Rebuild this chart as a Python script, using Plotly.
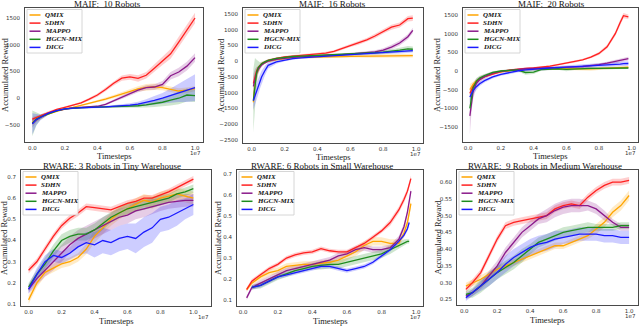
import plotly.graph_objects as go

W, H = 640, 326
SERIES = ["QMIX", "SDHN", "MAPPO", "HGCN-MIX", "DICG"]
COLORS = ["#FFA500", "#FF2020", "#8B1A8B", "#1E8C1E", "#1A1AFF"]
X_TICKS = [0.0, 0.2, 0.4, 0.6, 0.8, 1.0]
X_TICK_LABELS = ["0.0", "0.2", "0.4", "0.6", "0.8", "1.0"]

# ---------------- MAIF: 10 Robots (x in units of 1e7) ----------------
M10_X = [0.0, 0.025, 0.05, 0.1, 0.15, 0.2, 0.25, 0.3, 0.35, 0.4, 0.45, 0.5, 0.55,
         0.6, 0.65, 0.7, 0.75, 0.8, 0.85, 0.9, 0.95, 1.0]
M10_QMIX = [-450, -400, -360, -290, -240, -200, -170, -135, -95, -55, -15, 30, 80,
            130, 175, 205, 215, 200, 165, 135, 150, 180]
M10_QMIX_SD = [60, 40, 30, 20, 15, 15, 15, 15, 15, 20, 25, 30, 35, 40, 50, 60, 60, 50, 50, 50, 50, 50]
M10_SDHN = [-390, -360, -330, -260, -210, -170, -130, -85, -15, 60, 165, 280, 375,
            400, 370, 430, 560, 700, 830, 1050, 1280, 1500]
M10_SDHN_SD = [40, 30, 25, 20, 15, 15, 15, 20, 25, 30, 35, 40, 50, 55, 60, 60, 70, 80, 90, 100, 100, 100]
M10_MAPPO = [-470, -400, -350, -280, -230, -200, -180, -170, -160, -150, -115, -45, 15,
             80, 150, 200, 210, 260, 420, 490, 600, 760]
M10_MAPPO_SD = [80, 50, 35, 20, 15, 15, 15, 15, 15, 15, 20, 25, 30, 35, 40, 45, 50, 60, 70, 80, 80, 80]
M10_HGCN = [-470, -390, -350, -285, -235, -200, -185, -175, -170, -165, -160, -160, -155,
            -150, -140, -125, -105, -75, -35, 0, 60, 50]
M10_HGCN_SD = [240, 120, 50, 25, 15, 15, 15, 15, 15, 15, 15, 20, 25, 30, 40, 50, 60, 80, 100, 110, 120, 120]
M10_DICG = [-480, -400, -360, -280, -230, -200, -185, -175, -170, -165, -160, -150, -145,
            -130, -110, -80, -40, 0, 50, 100, 150, 200]
M10_DICG_SD = [200, 100, 50, 25, 15, 15, 15, 15, 15, 15, 15, 20, 25, 35, 45, 60, 80, 100, 130, 170, 220, 250]

# ---------------- MAIF: 16 Robots ----------------
M16_X = [0.01, 0.02, 0.03, 0.04, 0.05, 0.06, 0.08, 0.1, 0.15, 0.2, 0.25, 0.3, 0.35,
         0.4, 0.45, 0.5, 0.55, 0.6, 0.65, 0.7, 0.75, 0.8, 0.85, 0.9, 0.95, 0.98]
M16_QMIX = [-1300, -700, -400, -250, -160, -100, -40, 0, 50, 90, 110, 120, 130,
            140, 145, 150, 150, 155, 160, 160, 165, 165, 170, 170, 175, 180]
M16_QMIX_SD = [300, 200, 120, 80, 60, 50, 40, 30, 30, 30, 30, 30, 30, 30, 30, 40, 40, 40, 40, 50, 50, 50, 50, 60, 60, 60]
M16_SDHN = [-700, -450, -300, -200, -130, -80, -20, 30, 90, 140, 165, 185, 205,
            230, 260, 310, 400, 500, 580, 680, 800, 950, 1080, 1150, 1350, 1370]
M16_SDHN_SD = [200, 120, 80, 60, 50, 40, 30, 30, 30, 30, 30, 30, 30, 40, 40, 40, 50, 50, 60, 60, 70, 70, 80, 80, 90, 90]
M16_MAPPO = [-800, -550, -380, -260, -180, -120, -50, 0, 60, 100, 120, 140, 160,
             180, 190, 200, 210, 230, 250, 270, 300, 350, 450, 580, 780, 980]
M16_MAPPO_SD = [400, 300, 200, 120, 80, 60, 40, 30, 30, 30, 30, 30, 30, 30, 30, 30, 30, 35, 40, 45, 50, 60, 70, 80, 80, 80]
M16_HGCN = [-1250, -700, -350, -200, -130, -80, -20, 30, 90, 130, 150, 165, 175,
            185, 195, 205, 215, 225, 240, 255, 270, 290, 310, 350, 390, 380]
M16_HGCN_SD = [1000, 800, 400, 200, 100, 60, 40, 30, 30, 30, 30, 30, 30, 30, 30, 30, 30, 35, 40, 45, 50, 60, 70, 80, 90, 90]
M16_DICG = [-1250, -1100, -950, -800, -650, -500, -300, -130, -20, 40, 80, 110, 130,
            150, 165, 180, 195, 210, 225, 240, 255, 270, 285, 300, 320, 340]
M16_DICG_SD = [300, 300, 280, 250, 220, 200, 150, 100, 60, 40, 30, 30, 30, 30, 30, 30, 30, 30, 35, 40, 45, 50, 50, 55, 60, 60]

# ---------------- MAIF: 20 Robots ----------------
M20_X = [0.01, 0.02, 0.03, 0.05, 0.07, 0.1, 0.15, 0.2, 0.25, 0.3, 0.35, 0.4, 0.45,
         0.5, 0.55, 0.6, 0.65, 0.7, 0.75, 0.8, 0.85, 0.9, 0.93, 0.95, 0.98]
M20_QMIX = [-500, -420, -350, -270, -210, -150, -70, -20, 10, 30, 45, 55, 55,
            55, 60, 60, 55, 55, 55, 65, 75, 85, 90, 95, 100]
M20_QMIX_SD = [150, 100, 80, 60, 50, 40, 30, 25, 25, 25, 30, 30, 30, 30, 30, 30, 35, 40, 50, 40, 35, 30, 30, 30, 30]
M20_SDHN = [-600, -500, -420, -300, -220, -150, -80, -20, 20, 50, 70, 80, 100,
            130, 170, 210, 250, 300, 370, 470, 650, 1000, 1300, 1480, 1450]
M20_SDHN_SD = [100, 80, 60, 50, 40, 30, 25, 25, 25, 25, 25, 25, 25, 25, 25, 25, 30, 30, 30, 40, 50, 60, 70, 70, 60]
M20_MAPPO = [-1200, -800, -550, -330, -230, -150, -60, -10, 20, 45, 60, 70, 75,
             80, 90, 100, 110, 120, 140, 170, 210, 250, 280, 310, 330]
M20_MAPPO_SD = [500, 300, 200, 120, 80, 60, 40, 30, 30, 30, 30, 30, 30, 30, 30, 30, 30, 30, 35, 40, 40, 45, 45, 50, 50]
M20_HGCN = [-1000, -650, -450, -270, -190, -120, -40, 0, 20, 30, -40, -30, 40,
            60, 60, 45, 60, 70, 70, 70, 75, 80, 80, 80, 80]
M20_HGCN_SD = [300, 200, 120, 80, 60, 40, 30, 25, 25, 30, 60, 50, 30, 30, 30, 50, 35, 30, 30, 30, 30, 30, 30, 30, 30]
M20_DICG = [-700, -600, -520, -420, -340, -260, -160, -90, -40, 0, 30, 50, 65,
            80, 90, 100, 110, 120, 135, 150, 160, 175, 185, 195, 200]
M20_DICG_SD = [150, 120, 100, 80, 60, 50, 40, 40, 40, 40, 40, 40, 40, 40, 45, 50, 50, 50, 50, 55, 55, 55, 55, 60, 60]

# ---------------- RWARE: 3 Robots in Tiny Warehouse ----------------
R3_X = [0.0, 0.05, 0.1, 0.15, 0.2, 0.25, 0.3, 0.35, 0.4, 0.45, 0.5, 0.55, 0.6,
        0.65, 0.7, 0.75, 0.8, 0.85, 0.9, 0.95, 1.0]
R3_QMIX = [0.12, 0.20, 0.25, 0.27, 0.29, 0.30, 0.32, 0.36, 0.42, 0.46, 0.50, 0.53, 0.55,
           0.57, 0.59, 0.58, 0.60, 0.61, 0.62, 0.61, 0.60]
R3_QMIX_SD = [0.02, 0.02, 0.02, 0.02, 0.02, 0.02, 0.02, 0.025, 0.03, 0.03, 0.03, 0.03, 0.03,
              0.03, 0.03, 0.03, 0.03, 0.03, 0.03, 0.03, 0.03]
R3_SDHN = [0.26, 0.30, 0.36, 0.42, 0.47, 0.505, 0.53, 0.56, 0.555, 0.55, 0.545, 0.56, 0.575,
           0.585, 0.60, 0.60, 0.615, 0.63, 0.65, 0.67, 0.69]
R3_SDHN_SD = [0.015, 0.015, 0.015, 0.015, 0.015, 0.015, 0.015, 0.015, 0.015, 0.015, 0.015, 0.015, 0.015,
              0.015, 0.015, 0.015, 0.015, 0.015, 0.015, 0.015, 0.015]
R3_MAPPO = [0.17, 0.22, 0.26, 0.30, 0.34, 0.38, 0.41, 0.43, 0.45, 0.47, 0.49, 0.51, 0.52,
            0.54, 0.55, 0.56, 0.57, 0.58, 0.585, 0.59, 0.59]
R3_MAPPO_SD = [0.02, 0.03, 0.03, 0.04, 0.04, 0.04, 0.04, 0.04, 0.04, 0.04, 0.04, 0.04, 0.04,
               0.04, 0.04, 0.035, 0.03, 0.03, 0.03, 0.03, 0.03]
R3_HGCN = [0.18, 0.24, 0.29, 0.35, 0.40, 0.42, 0.43, 0.43, 0.45, 0.48, 0.51, 0.53, 0.55,
           0.56, 0.57, 0.58, 0.59, 0.60, 0.62, 0.63, 0.645]
R3_HGCN_SD = [0.02, 0.02, 0.025, 0.03, 0.03, 0.03, 0.03, 0.03, 0.03, 0.03, 0.025, 0.025, 0.025,
              0.025, 0.025, 0.025, 0.025, 0.02, 0.02, 0.02, 0.02]
R3_DICG = [0.17, 0.24, 0.30, 0.33, 0.32, 0.34, 0.37, 0.39, 0.38, 0.40, 0.39, 0.41, 0.42,
           0.41, 0.44, 0.46, 0.50, 0.51, 0.53, 0.55, 0.57]
R3_DICG_SD = [0.02, 0.03, 0.03, 0.03, 0.03, 0.03, 0.04, 0.05, 0.06, 0.06, 0.06, 0.06, 0.06,
              0.07, 0.07, 0.07, 0.06, 0.06, 0.06, 0.05, 0.05]

# ---------------- RWARE: 6 Robots in Small Warehouse ----------------
R6_X = [0.02, 0.05, 0.1, 0.15, 0.2, 0.25, 0.3, 0.35, 0.4, 0.45, 0.5, 0.55, 0.6,
        0.65, 0.7, 0.75, 0.8, 0.85, 0.9, 0.93, 0.95, 0.97]
R6_X_LATE = [0.05, 0.1, 0.15, 0.2, 0.25, 0.3, 0.35, 0.4, 0.45, 0.5, 0.55, 0.6,
             0.65, 0.7, 0.75, 0.8, 0.85, 0.9, 0.93, 0.95, 0.96]
R6_QMIX = [0.15, 0.18, 0.21, 0.23, 0.24, 0.26, 0.265, 0.27, 0.27, 0.275, 0.28, 0.29, 0.31,
           0.33, 0.36, 0.38, 0.38, 0.37, 0.37, 0.42, 0.47, 0.56]
R6_QMIX_SD = [0.01, 0.01, 0.015, 0.015, 0.015, 0.015, 0.015, 0.015, 0.015, 0.015, 0.015, 0.02, 0.02,
              0.02, 0.02, 0.02, 0.02, 0.02, 0.02, 0.02, 0.02, 0.02]
R6_SDHN = [0.15, 0.19, 0.22, 0.25, 0.27, 0.30, 0.315, 0.325, 0.33, 0.345, 0.335, 0.33, 0.33,
           0.35, 0.37, 0.40, 0.43, 0.47, 0.53, 0.58, 0.62, 0.68]
R6_SDHN_SD = [0.01, 0.01, 0.01, 0.01, 0.01, 0.01, 0.01, 0.01, 0.01, 0.01, 0.01, 0.01, 0.01,
              0.01, 0.01, 0.01, 0.01, 0.015, 0.015, 0.015, 0.015, 0.015]
R6_MAPPO = [0.11, 0.16, 0.18, 0.20, 0.22, 0.24, 0.25, 0.26, 0.27, 0.28, 0.29, 0.31, 0.32,
            0.34, 0.35, 0.34, 0.34, 0.35, 0.39, 0.45, 0.52, 0.62]
R6_MAPPO_SD = [0.01, 0.01, 0.015, 0.015, 0.015, 0.015, 0.015, 0.015, 0.015, 0.015, 0.015, 0.015, 0.015,
               0.015, 0.015, 0.015, 0.015, 0.015, 0.015, 0.015, 0.015, 0.015]
R6_HGCN = [0.16, 0.17, 0.19, 0.21, 0.225, 0.24, 0.25, 0.26, 0.265, 0.27, 0.27, 0.28,
           0.29, 0.30, 0.31, 0.32, 0.34, 0.36, 0.375, 0.38, 0.38]
R6_HGCN_SD = [0.01, 0.015, 0.015, 0.015, 0.015, 0.015, 0.015, 0.015, 0.02, 0.02, 0.02, 0.02,
              0.02, 0.02, 0.02, 0.02, 0.02, 0.015, 0.015, 0.01, 0.01]
R6_DICG = [0.16, 0.17, 0.19, 0.21, 0.22, 0.23, 0.24, 0.25, 0.26, 0.26, 0.25, 0.24,
           0.25, 0.26, 0.28, 0.31, 0.34, 0.38, 0.41, 0.44, 0.47]
R6_DICG_SD = [0.01, 0.01, 0.01, 0.01, 0.01, 0.01, 0.01, 0.01, 0.01, 0.01, 0.01, 0.01,
              0.01, 0.01, 0.01, 0.01, 0.01, 0.01, 0.01, 0.01, 0.01]

# ---------------- RWARE: 9 Robots in Medium Warehouse ----------------
R9_X = [0.01, 0.05, 0.1, 0.15, 0.2, 0.25, 0.3, 0.35, 0.4, 0.45, 0.5, 0.55, 0.6,
        0.65, 0.7, 0.75, 0.8, 0.85, 0.9, 0.95, 1.0]
R9_QMIX = [0.29, 0.30, 0.31, 0.325, 0.34, 0.35, 0.36, 0.37, 0.38, 0.39, 0.40, 0.41, 0.41,
           0.42, 0.43, 0.44, 0.46, 0.48, 0.51, 0.53, 0.56]
R9_QMIX_SD = [0.01, 0.01, 0.01, 0.01, 0.01, 0.01, 0.01, 0.01, 0.01, 0.01, 0.01, 0.01, 0.01,
              0.01, 0.01, 0.01, 0.015, 0.015, 0.015, 0.015, 0.015]
R9_SDHN = [0.28, 0.30, 0.33, 0.38, 0.43, 0.47, 0.48, 0.485, 0.49, 0.495, 0.50, 0.52, 0.53,
           0.535, 0.53, 0.555, 0.575, 0.59, 0.60, 0.60, 0.605]
R9_SDHN_SD = [0.01, 0.01, 0.01, 0.01, 0.01, 0.01, 0.01, 0.01, 0.01, 0.01, 0.01, 0.01, 0.01,
              0.01, 0.01, 0.01, 0.01, 0.01, 0.01, 0.01, 0.01]
R9_MAPPO = [0.26, 0.27, 0.29, 0.32, 0.35, 0.39, 0.42, 0.45, 0.47, 0.49, 0.50, 0.515, 0.525,
            0.53, 0.53, 0.53, 0.52, 0.50, 0.48, 0.465, 0.465]
R9_MAPPO_SD = [0.01, 0.01, 0.01, 0.015, 0.015, 0.015, 0.015, 0.015, 0.015, 0.015, 0.02, 0.02, 0.02,
               0.02, 0.02, 0.015, 0.015, 0.015, 0.01, 0.01, 0.01]
R9_HGCN = [0.265, 0.27, 0.29, 0.31, 0.33, 0.345, 0.36, 0.38, 0.40, 0.42, 0.43, 0.44, 0.45,
           0.455, 0.46, 0.465, 0.465, 0.465, 0.465, 0.47, 0.47]
R9_HGCN_SD = [0.01, 0.015, 0.02, 0.02, 0.02, 0.02, 0.02, 0.02, 0.015, 0.015, 0.015, 0.015, 0.015,
              0.015, 0.015, 0.015, 0.01, 0.01, 0.01, 0.01, 0.01]
R9_DICG = [0.255, 0.27, 0.29, 0.31, 0.33, 0.355, 0.375, 0.39, 0.405, 0.415, 0.42, 0.43, 0.435,
           0.44, 0.445, 0.445, 0.445, 0.44, 0.44, 0.435, 0.435]
R9_DICG_SD = [0.01, 0.01, 0.015, 0.02, 0.02, 0.025, 0.025, 0.025, 0.025, 0.025, 0.025, 0.025, 0.02,
              0.02, 0.02, 0.02, 0.02, 0.02, 0.02, 0.02, 0.02]

PANELS = [
    dict(title="MAIF:  10 Robots", xs=[M10_X] * 5,
         ys=[M10_QMIX, M10_SDHN, M10_MAPPO, M10_HGCN, M10_DICG],
         sds=[M10_QMIX_SD, M10_SDHN_SD, M10_MAPPO_SD, M10_HGCN_SD, M10_DICG_SD],
         box=(25, 8, 203, 142), xr=(-0.045, 1.049), yr=(-818, 1687),
         yt=[-500, 0, 500, 1000, 1500], yf="d", tpos=(107, 4), ylx=5),
    dict(title="MAIF:  16 Robots", xs=[M16_X] * 5,
         ys=[M16_QMIX, M16_SDHN, M16_MAPPO, M16_HGCN, M16_DICG],
         sds=[M16_QMIX_SD, M16_SDHN_SD, M16_MAPPO_SD, M16_HGCN_SD, M16_DICG_SD],
         box=(243, 8, 423, 143), xr=(-0.053, 1.042), yr=(-2595, 1690),
         yt=[-2500, -2000, -1500, -1000, -500, 0, 500, 1000, 1500], yf="d", tpos=(332, 4), ylx=220),
    dict(title="MAIF:  20 Robots", xs=[M20_X] * 5,
         ys=[M20_QMIX, M20_SDHN, M20_MAPPO, M20_HGCN, M20_DICG],
         sds=[M20_QMIX_SD, M20_SDHN_SD, M20_MAPPO_SD, M20_HGCN_SD, M20_DICG_SD],
         box=(463, 8, 638, 142), xr=(-0.032, 1.039), yr=(-1902, 1687),
         yt=[-1500, -1000, -500, 0, 500, 1000, 1500], yf="d", tpos=(551, 4), ylx=437),
    dict(title="RWARE: 3 Robots in Tiny Warehouse", xs=[R3_X] * 5,
         ys=[R3_QMIX, R3_SDHN, R3_MAPPO, R3_HGCN, R3_DICG],
         sds=[R3_QMIX_SD, R3_SDHN_SD, R3_MAPPO_SD, R3_HGCN_SD, R3_DICG_SD],
         box=(21, 170, 211, 306), xr=(-0.046, 1.107), yr=(0.091, 0.733),
         yt=[0.1, 0.2, 0.3, 0.4, 0.5, 0.6, 0.7], yf=".1f", tpos=(112, 166), ylx=4),
    dict(title="RWARE: 6 Robots in Small Warehouse", xs=[R6_X, R6_X, R6_X, R6_X_LATE, R6_X_LATE],
         ys=[R6_QMIX, R6_SDHN, R6_MAPPO, R6_HGCN, R6_DICG],
         sds=[R6_QMIX_SD, R6_SDHN_SD, R6_MAPPO_SD, R6_HGCN_SD, R6_DICG_SD],
         box=(237, 170, 423, 306), xr=(-0.036, 1.04), yr=(0.071, 0.721),
         yt=[0.1, 0.2, 0.3, 0.4, 0.5, 0.6, 0.7], yf=".1f", tpos=(322, 166), ylx=218),
    dict(title="RWARE:  9 Robots in Medium Warehouse", xs=[R9_X] * 5,
         ys=[R9_QMIX, R9_SDHN, R9_MAPPO, R9_HGCN, R9_DICG],
         sds=[R9_QMIX_SD, R9_SDHN_SD, R9_MAPPO_SD, R9_HGCN_SD, R9_DICG_SD],
         box=(457, 170, 638, 305), xr=(-0.044, 1.054), yr=(0.2333, 0.636),
         yt=[0.25, 0.30, 0.35, 0.40, 0.45, 0.50, 0.55, 0.60], yf=".2f", tpos=(545, 166), ylx=437),
]


def rgba(hexc, a):
    h = hexc.lstrip("#")
    return "rgba(%d,%d,%d,%.2f)" % (int(h[0:2], 16), int(h[2:4], 16), int(h[4:6], 16), a)


def px(x, y):
    return x / W, 1 - y / H


fig = go.Figure()
layout = dict(width=W, height=H, margin=dict(l=0, r=0, t=0, b=0),
              paper_bgcolor="white", plot_bgcolor="white", showlegend=False)
annotations, shapes = [], []
SERIF = "Liberation Serif, Times New Roman, serif"
SANS = "DejaVu Sans, sans-serif"
EDGE = "#4a4a4a"

for i, p in enumerate(PANELS, start=1):
    sfx = "" if i == 1 else str(i)
    x0, y0, x1, y1 = p["box"]
    top_row = i <= 3
    layout["xaxis" + sfx] = dict(
        domain=[x0 / W, x1 / W], anchor="y" + sfx, range=list(p["xr"]),
        tickvals=X_TICKS, ticktext=X_TICK_LABELS, showgrid=False, zeroline=False,
        showline=True, mirror=True, linecolor=EDGE, linewidth=1, ticks="",
        tickfont=dict(family=SANS, size=5.5, color="#333"))
    layout["yaxis" + sfx] = dict(
        domain=[1 - y1 / H, 1 - y0 / H], anchor="x" + sfx, range=list(p["yr"]),
        tickvals=p["yt"], tickformat=p["yf"], showgrid=False, zeroline=False,
        showline=True, mirror=True, linecolor=EDGE, linewidth=1, ticks="",
        ticklabelstandoff=3, tickfont=dict(family=SANS, size=5.5, color="#333"))
    for k in range(5):
        xs, ys, sd = p["xs"][k], p["ys"][k], p["sds"][k]
        up = [a + b for a, b in zip(ys, sd)]
        lo = [a - b for a, b in zip(ys, sd)]
        fig.add_trace(go.Scatter(x=list(xs) + list(xs)[::-1], y=up + lo[::-1],
                                 fill="toself", fillcolor=rgba(COLORS[k], 0.22),
                                 line=dict(width=0), mode="lines", hoverinfo="skip",
                                 xaxis="x" + sfx, yaxis="y" + sfx))
    for k in range(5):
        fig.add_trace(go.Scatter(x=p["xs"][k], y=p["ys"][k], mode="lines", name=SERIES[k],
                                 line=dict(color=COLORS[k], width=1.3),
                                 xaxis="x" + sfx, yaxis="y" + sfx))
    # title
    tx, ty = px(*p["tpos"])
    annotations.append(dict(x=tx, y=ty, xref="paper", yref="paper", text=p["title"],
                            showarrow=False, xanchor="center", yanchor="middle", borderpad=0,
                            font=dict(family=SERIF, size=9, color="#111")))
    # y label
    lx, ly = px(p["ylx"], (y0 + y1) / 2)
    annotations.append(dict(x=lx, y=ly, xref="paper", yref="paper", text="Accumulated Reward",
                            textangle=-90, showarrow=False, xanchor="center", yanchor="middle",
                            font=dict(family=SERIF, size=8.5, color="#222")))
    # x label
    xlx, xly = px((x0 + x1) / 2, y1 + (13.5 if top_row else 14.5))
    annotations.append(dict(x=xlx, y=xly, xref="paper", yref="paper", text="Timesteps",
                            showarrow=False, xanchor="center", yanchor="middle", borderpad=0,
                            font=dict(family=SERIF, size=8.5, color="#222")))
    # offset text
    ox, oy = px(x1, y1 + 11)
    annotations.append(dict(x=ox, y=oy, xref="paper", yref="paper", text="1e7",
                            showarrow=False, xanchor="right", yanchor="middle",
                            font=dict(family=SANS, size=5.5, color="#333")))
    # legend
    bx0, by0 = px(x0 + 2, y0 + 1.5)
    bx1, by1 = px(x0 + 57, y0 + 45)
    shapes.append(dict(type="rect", xref="paper", yref="paper", x0=bx0, y0=by1, x1=bx1, y1=by0,
                       fillcolor="rgba(255,255,255,0.85)", line=dict(color="#cccccc", width=0.8),
                       layer="above"))
    for k in range(5):
        ry = y0 + 7 + 8.1 * k
        lx0, lyy = px(x0 + 4.5, ry)
        lx1, _ = px(x0 + 15.5, ry)
        shapes.append(dict(type="line", xref="paper", yref="paper", x0=lx0, x1=lx1, y0=lyy, y1=lyy,
                           line=dict(color=COLORS[k], width=1.5), layer="above"))
        ttx, tty = px(x0 + 17.5, ry)
        annotations.append(dict(x=ttx, y=tty, xref="paper", yref="paper", text=SERIES[k],
                                showarrow=False, xanchor="left", yanchor="middle",
                                font=dict(family=SERIF, size=7, color="#111",
                                          weight="bold", style="italic")))

layout["annotations"] = annotations
layout["shapes"] = shapes
fig.update_layout(**layout)
fig.write_html("out.html", config={"displayModeBar": False},
               post_script="document.body.style.margin='0px';document.body.style.overflow='hidden';")
